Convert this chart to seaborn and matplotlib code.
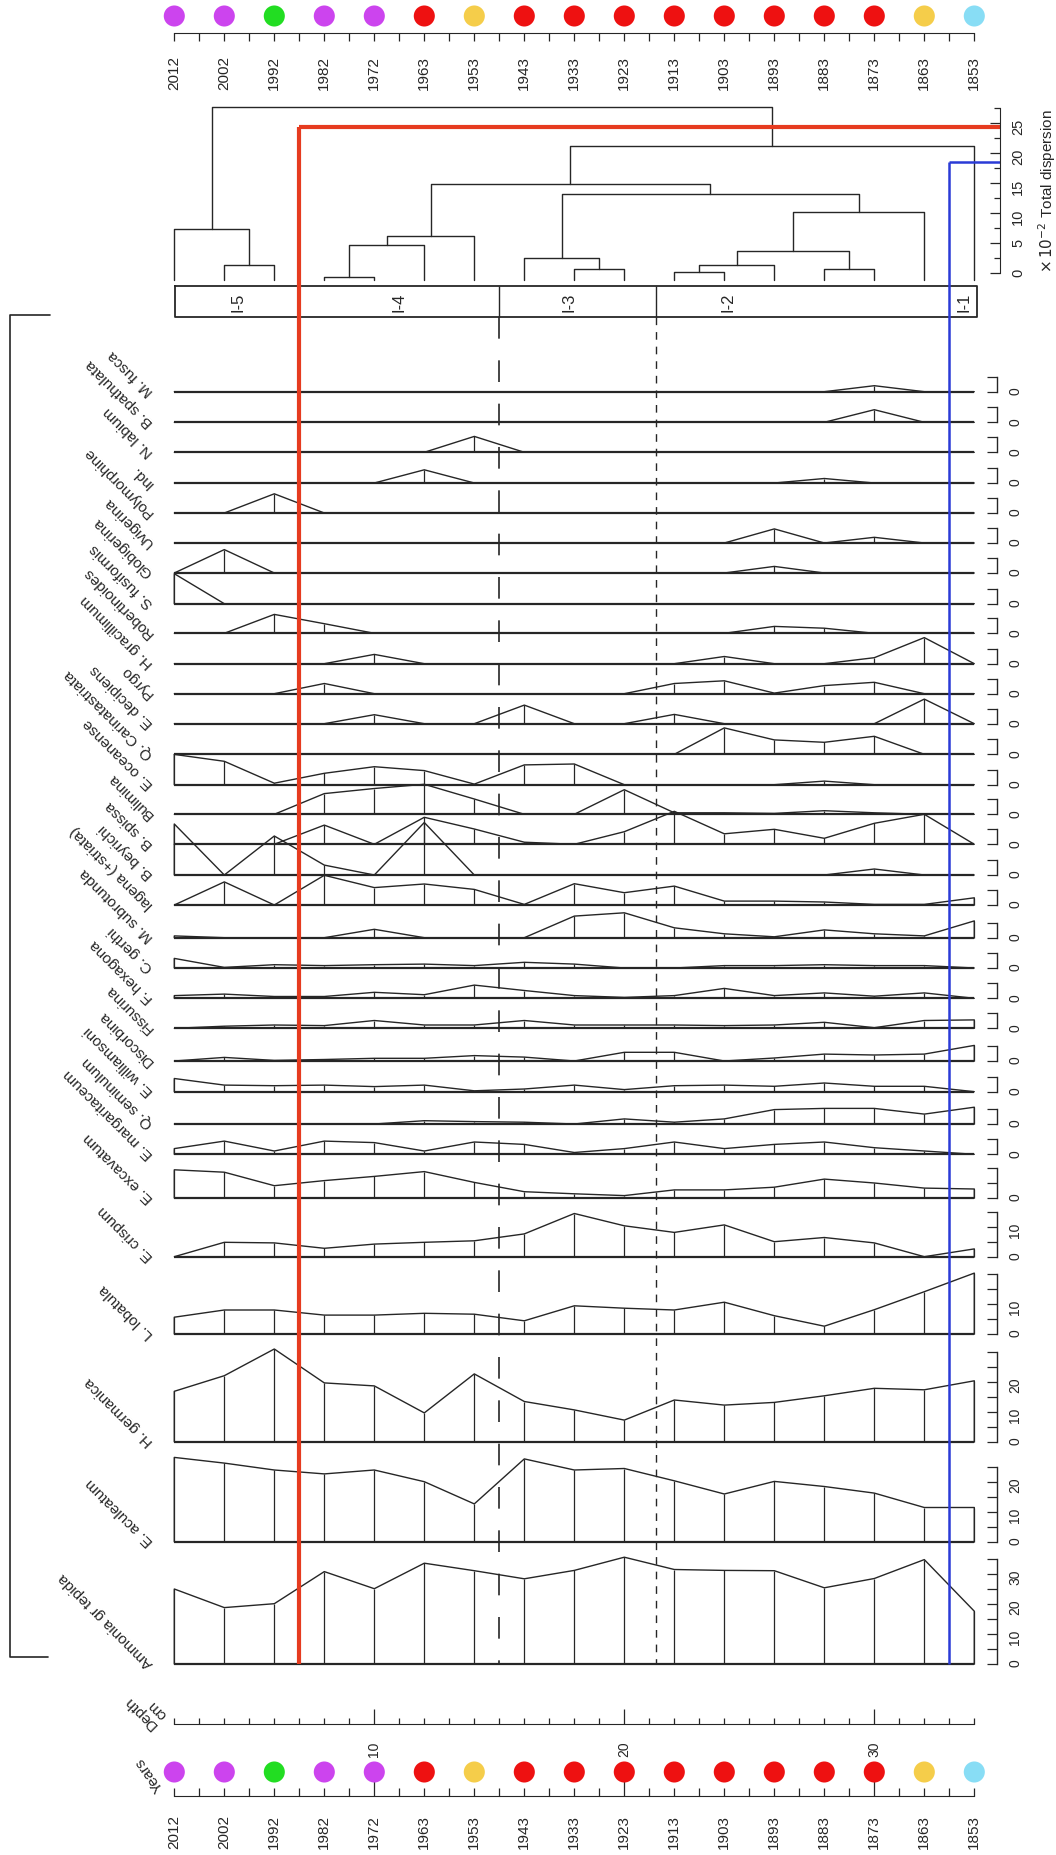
import numpy as np
import pandas as pd
import matplotlib
matplotlib.use('Agg')
import matplotlib.pyplot as plt
import seaborn as sns

# ---- samples -------------------------------------------------------------
years = [2012, 2002, 1992, 1982, 1972, 1963, 1953, 1943, 1933, 1923,
         1913, 1903, 1893, 1883, 1873, 1863, 1853]
depths = [2, 4, 6, 8, 10, 12, 14, 16, 18, 20, 22, 24, 26, 28, 30, 32, 34]
year_colors = ['#cc44ee', '#cc44ee', '#22dd22', '#cc44ee', '#cc44ee', '#ee1111',
               '#f5cd4a', '#ee1111', '#ee1111', '#ee1111', '#ee1111', '#ee1111',
               '#ee1111', '#ee1111', '#ee1111', '#f5cd4a', '#88ddf5']

# ---- relative abundances (%) ------------------------------------------------
m_fusca = [0, 0, 0, 0, 0, 0, 0, 0, 0, 0, 0, 0, 0, 0, 2, 0, 0]
b_spathulata = [0, 0, 0, 0, 0, 0, 0, 0, 0, 0, 0, 0, 0, 0, 4.2, 0, 0]
n_labium = [0, 0, 0, 0, 0, 0, 5.3, 0, 0, 0, 0, 0, 0, 0, 0, 0, 0]
ind = [0, 0, 0, 0, 0, 4.4, 0, 0, 0, 0, 0, 0, 0, 1.5, 0, 0, 0]
polymorphine = [0, 0, 6.4, 0, 0, 0, 0, 0, 0, 0, 0, 0, 0, 0, 0, 0, 0]
uvigerina = [0, 0, 0, 0, 0, 0, 0, 0, 0, 0, 0, 0, 4.7, 0, 1.9, 0, 0]
globigerina = [0, 7.8, 0, 0, 0, 0, 0, 0, 0, 0, 0, 0, 2.2, 0, 0, 0, 0]
s_fusiformis = [10, 0, 0, 0, 0, 0, 0, 0, 0, 0, 0, 0, 0, 0, 0, 0, 0]
robertinoides = [0, 0, 6.3, 3.2, 0, 0, 0, 0, 0, 0, 0, 0, 2.3, 1.7, 0, 0, 0]
h_gracillimum = [0, 0, 0, 0, 3.1, 0, 0, 0, 0, 0, 0, 2.4, 0, 0, 2, 8.7, 0]
pyrgo = [0, 0, 0, 3.4, 0, 0, 0, 0, 0, 0, 3.4, 4.3, 0.2, 2.7, 3.8, 0, 0]
e_decipiens = [0, 0, 0, 0, 3, 0, 0, 6.2, 0, 0, 3.1, 0, 0, 0, 0, 8.2, 0]
q_carinatastriata = [0, 0, 0, 0, 0, 0, 0, 0, 0, 0, 0, 8.8, 4.8, 4.0, 6.0, 0, 0]
e_oceanense = [10.1, 7.8, 0.5, 3.8, 6, 4.7, 0.2, 6.6, 6.9, 0, 0, 0, 0, 1.2, 0, 0, 0]
bulimina = [0, 0, 0, 6.9, 8.6, 10, 5.1, 0, 0, 8.2, 0.5, 0.5, 0.3, 1.2, 0.5, 0, 0]
b_spissa = [0, 0, 0, 6.4, 0, 9, 5.1, 0.7, 0, 4.2, 11, 3.5, 5, 2, 7, 10, 0]
b_beyrichi = [17, 0, 13, 3.3, 0, 17.5, 0, 0, 0, 0, 0, 0, 0, 0, 2, 0, 0]
lagena = [0, 7.7, 0, 9.9, 5.8, 7, 5.2, 0.2, 7.1, 4.1, 6.3, 1.3, 1.3, 1.0, 0.2, 0.2, 2.4]
m_subrotunda = [0.6, 0, 0, 0, 2.8, 0, 0, 0, 7.2, 8.3, 3.3, 1.3, 0.3, 2.6, 1.3, 0.6, 5.6]
c_gerthi = [3.2, 0.2, 1.1, 0.8, 1.1, 1.3, 0.8, 1.9, 1.3, 0, 0, 0.8, 0.8, 1.1, 0.8, 0.8, 0]
f_hexagona = [0.9, 1.4, 0.6, 0.6, 2, 1.2, 4.4, 2.6, 0.9, 0.3, 0.9, 3.3, 0.9, 1.8, 0.7, 1.8, 0]
fissurina = [0, 0.7, 1.1, 0.9, 2.6, 1.1, 1.1, 2.6, 1.1, 1.1, 1.1, 0.9, 1.1, 2, 0.2, 2.6, 2.8]
discorbina = [0, 1.2, 0.2, 0.5, 0.9, 0.9, 1.8, 1.3, 0, 2.9, 2.9, 0, 1, 2.3, 2, 2.3, 5.2]
e_williamsoni = [4.4, 2.2, 2, 2.2, 1.7, 2.2, 0.3, 0.9, 2.2, 0.7, 2, 2.2, 1.8, 2.9, 1.8, 1.8, 0]
q_seminulum = [0, 0, 0, 0, 0, 1.1, 0.8, 0.6, 0, 1.7, 0.6, 1.7, 4.8, 5.2, 5.2, 3.3, 5.6]
e_margaritaceum = [1.9, 4.4, 1.1, 4.4, 3.9, 1.1, 4.1, 3.3, 0.6, 1.9, 4.1, 1.9, 3.3, 4.1, 2.2, 1.1, 0]
e_excavatum = [9.4, 8.6, 4.1, 5.8, 7.2, 8.8, 5.2, 2.1, 1.4, 0.8, 2.7, 2.7, 3.6, 6.3, 5, 3.3, 3]
e_crispum = [0, 4.8, 4.6, 2.8, 4.2, 4.8, 5.3, 7.6, 14.4, 10.3, 8.1, 10.6, 5, 6.4, 4.6, 0, 2.6]
l_lobatula = [5.6, 8, 8, 6.3, 6.3, 6.9, 6.6, 4.4, 9.4, 8.6, 8, 10.6, 6.1, 2.6, 8.1, 14.1, 20.3]
h_germanica = [16.8, 22, 30.9, 19.6, 18.6, 9.6, 22.6, 13.4, 10.6, 7.2, 13.9, 12.2, 13.1, 15.3,
               17.8, 17.3, 20.3]
e_aculeatum = [28.1, 26.2, 23.9, 22.6, 23.9, 20, 12.6, 27.6, 23.9, 24.4, 20.3, 15.9, 20.1, 18.4,
               16.2, 11.4, 11.4]
ammonia = [25, 18.8, 20.1, 30.8, 25.1, 33.6, 31.1, 28.4, 31.2, 35.6, 31.5, 31.2, 31.1, 25.4,
           28.5, 34.8, 17.6]

# ---- CONISS dendrogram (leaf ids 0-16, new nodes from 17) --------------------
merge_left = [1, 0, 3, 19, 20, 8, 7, 10, 24, 13, 25, 27, 23, 21, 30, 18]
merge_right = [2, 17, 4, 5, 6, 9, 22, 11, 12, 14, 26, 15, 28, 29, 16, 31]
merge_height = [1.4, 7.4, -0.6, 4.7, 6.2, 0.67, 2.45, 0.1, 1.33, 0.67, 3.7, 10.1, 13.2,
                14.8, 21.1, 27.6]
zone_bounds = [7, 15, 21.25, 33]
zone_names = ['I-5', 'I-4', 'I-3', 'I-2', 'I-1']
zone_label_depth = [4.55, 11.0, 17.8, 24.15, 33.6]
red_cut = 24.4
blue_cut = 18.5

panels = [
    ('M. fusca', m_fusca), ('B. spathulata', b_spathulata), ('N. labium', n_labium),
    ('Ind.', ind), ('Polymorphine', polymorphine), ('Uvigerina', uvigerina),
    ('Globigerina', globigerina), ('S. fusiformis', s_fusiformis),
    ('Robertinoides', robertinoides), ('H. gracillimum', h_gracillimum), ('Pyrgo', pyrgo),
    ('E. decipiens', e_decipiens), ('Q. Carinatastriata', q_carinatastriata),
    ('E. oceanense', e_oceanense), ('Bulimina', bulimina), ('B. spissa', b_spissa),
    ('B. beyrichi', b_beyrichi), ('lagena (+striata)', lagena), ('M. subrotunda', m_subrotunda),
    ('C. gerthi', c_gerthi), ('F. hexagona', f_hexagona), ('Fissurina', fissurina),
    ('Discorbina', discorbina), ('E. williamsoni', e_williamsoni), ('Q. seminulum', q_seminulum),
    ('E. margaritaceum', e_margaritaceum), ('E. excavatum', e_excavatum),
    ('E. crispum', e_crispum), ('L. lobatula', l_lobatula), ('H. germanica', h_germanica),
    ('E. aculeatum', e_aculeatum), ('Ammonia gr tepida', ammonia),
]

# layout: pixel row of each panel's zero line
panel_base = [392.7, 423.3, 453.3, 484, 514, 544, 574, 604.7, 634.3, 664.7, 694.7, 724.7,
              755.3, 785.7, 815.3, 845.3, 876, 906, 938.7, 969, 999.3, 1029.3, 1062, 1092.7,
              1125, 1155.3, 1199, 1257.7, 1335, 1442.7, 1542.7, 1665]
panel_ticks = [([0], [5])] * 26 + [
    ([0], [5, 10]), ([0, 10], [5, 15]), ([0, 10], [5, 15, 20]),
    ([0, 10, 20], [5, 15, 25, 30]), ([0, 10, 20], [5, 15, 25]),
    ([0, 10, 20, 30], [5, 15, 25, 35])]

sns.set_style('white')
plt.rcParams['font.family'] = ['Liberation Sans', 'DejaVu Sans']

W, H = 1056, 1856
fig = plt.figure(figsize=(W / 100, H / 100), dpi=100)
X0, X1 = 174.3, 974.3          # pixel columns of depth 2 and depth 34
PX_PER_CM = (X1 - X0) / 32
INK = '#262626'
RED = '#e63b1f'
BLUE = '#2a3bd6'


def depth_at(px):
    return 2 + (px - X0) / PX_PER_CM


def px_axes(top, height):
    ax = fig.add_axes([X0 / W, 1 - (top + height) / H, (X1 - X0) / W, height / H])
    ax.patch.set_visible(False)
    ax.set_xlim(2, 34)
    return ax


# ---- species panels ----------------------------------------------------------
panel_axes = []
for (name, vals), base, (major, minor) in zip(panels, panel_base, panel_ticks):
    top = max(major + minor)
    ax = px_axes(base - 3 * top, 3 * top)
    ax.set_ylim(0, top)
    df = pd.DataFrame({'depth': [depths[0]] + depths + [depths[-1]],
                       'pct': [0] + vals + [0]})
    sns.lineplot(data=df, x='depth', y='pct', ax=ax, sort=False, estimator=None,
                 color=INK, lw=1.0)
    ax.vlines(depths, 0, vals, color=INK, lw=0.9, clip_on=False)
    ax.hlines(0, depths[0], depths[-1], color=INK, lw=1.6, clip_on=False)
    for ln in ax.lines:
        ln.set_clip_on(False)
    for side in ['left', 'top', 'bottom']:
        ax.spines[side].set_visible(False)
    sp = ax.spines['right']
    sp.set_position(('axes', (997 - X0) / (X1 - X0)))
    sp.set_bounds(0, top)
    sp.set_color(INK)
    sp.set_linewidth(1.0)
    ax.xaxis.set_visible(False)
    ax.yaxis.tick_right()
    ax.set_yticks(major)
    ax.set_yticks(minor, minor=True)
    ax.set_yticklabels([str(m) for m in major])
    ax.tick_params(axis='y', which='both', direction='in', length=7, width=0.9,
                   color=INK, labelsize=10, labelrotation=90, pad=8, right=True)
    ax.set_xlabel('')
    ax.set_ylabel('')
    ax.annotate(name, xy=(2, 0), xytext=(-17, -1), textcoords='offset points',
                rotation=135, rotation_mode='anchor', ha='left', va='center',
                fontsize=11, color=INK, annotation_clip=False)
    panel_axes.append(ax)

# ---- dendrogram --------------------------------------------------------------
axd = px_axes(107.2, 274 - 107.2)
axd.set_ylim(0, 27.8)
node_x = list(depths)
node_h = [-1.1] * len(depths)
for l, r, h in zip(merge_left, merge_right, merge_height):
    axd.plot([node_x[l], node_x[l], node_x[r], node_x[r]], [node_h[l], h, h, node_h[r]],
             color=INK, lw=1.0, clip_on=False)
    node_x.append((node_x[l] + node_x[r]) / 2)
    node_h.append(h)
d_right = depth_at(1000)
axd.plot([zone_bounds[0], d_right], [red_cut, red_cut], color=RED, lw=3, clip_on=False,
         solid_capstyle='butt')
axd.plot([zone_bounds[-1], d_right], [blue_cut, blue_cut], color=BLUE, lw=1.8, clip_on=False,
         solid_capstyle='butt')
for side in ['left', 'top', 'bottom']:
    axd.spines[side].set_visible(False)
sp = axd.spines['right']
sp.set_position(('axes', (1000 - X0) / (X1 - X0)))
sp.set_bounds(0, 27.5)
sp.set_color(INK)
axd.xaxis.set_visible(False)
axd.yaxis.tick_right()
axd.set_yticks([0, 5, 10, 15, 20, 25])
axd.set_yticks([2.5, 7.5, 12.5, 17.5, 22.5, 27.5], minor=True)
axd.tick_params(axis='y', which='major', direction='in', length=7, width=0.9, color=INK,
                labelsize=10.5, labelrotation=90, pad=8, right=True)
axd.tick_params(axis='y', which='minor', direction='in', length=4.5, width=0.9, color=INK,
                right=True)
axd.yaxis.set_label_position('right')
axd.set_ylabel(r'$\times\,10^{-2}$ Total dispersion', fontsize=11, color=INK,
               rotation=90, labelpad=8)

# ---- year axes (top and bottom) -----------------------------------------------
def year_axis(top, height, tickdir, pad):
    ax = px_axes(top, height)
    ax.set_ylim(-1, 1)
    sns.scatterplot(x=depths, y=[0] * len(depths), hue=[str(y) for y in years],
                    palette=year_colors, legend=False, s=230, edgecolor='none',
                    ax=ax, clip_on=False)
    for side in ['left', 'top', 'right']:
        ax.spines[side].set_visible(False)
    ax.spines['bottom'].set_bounds(2, 34)
    ax.spines['bottom'].set_color(INK)
    ax.set_yticks([])
    ax.set_xticks(depths)
    ax.set_xticklabels([str(y) for y in years])
    ax.set_xticks(list(range(3, 34, 2)), minor=True)
    ax.tick_params(axis='x', which='both', direction=tickdir, length=6, width=0.9,
                   color=INK, bottom=True)
    ax.tick_params(axis='x', which='major', labelsize=11, labelrotation=90, pad=pad,
                   labelcolor=INK)
    ax.set_xlabel('')
    ax.set_ylabel('')
    return ax


year_axis(0, 34, 'out', 10)
axy = year_axis(1749, 48, 'in', 13)
for tk, d in zip(axy.xaxis.get_major_ticks(), depths):
    if d % 10 == 0:
        tk.tick1line.set_markersize(14)

# ---- depth axis ----------------------------------------------------------------
axz = px_axes(1700, 25)
axz.set_ylim(0, 1)
for side in ['left', 'top', 'right']:
    axz.spines[side].set_visible(False)
axz.spines['bottom'].set_bounds(2, 34)
axz.spines['bottom'].set_color(INK)
axz.set_yticks([])
axz.set_xticks([10, 20, 30])
axz.set_xticks([d for d in range(2, 35) if d % 10], minor=True)
axz.tick_params(axis='x', which='major', direction='in', length=11, width=0.9, color=INK,
                labelsize=10, labelrotation=90, pad=12, labelcolor=INK, bottom=True)
axz.tick_params(axis='x', which='minor', direction='in', length=4.5, width=0.9, color=INK,
                bottom=True)

# ---- overlay: zones, cut lines, bracket, titles -----------------------------------
ax_o = fig.add_axes([0, 0, 1, 1])
ax_o.set_xlim(depth_at(0), depth_at(W))
ax_o.set_ylim(H, 0)
ax_o.axis('off')


def to_overlay(ax, x, y):
    return ax_o.transData.inverted().transform(ax.transData.transform((x, y)))


y_bottom = to_overlay(panel_axes[-1], 0, 0)[1]
y_red = to_overlay(axd, 0, red_cut)[1]
y_blue = to_overlay(axd, 0, blue_cut)[1]
box_top, box_bot = 287, 318

ax_o.plot([depth_at(175), depth_at(977), depth_at(977), depth_at(175), depth_at(175)],
          [box_top, box_top, box_bot, box_bot, box_top], color=INK, lw=1.3)
ax_o.vlines(zone_bounds[1:3], box_top, box_bot, color=INK, lw=1.0)
for lab, xd in zip(zone_names, zone_label_depth):
    ax_o.text(xd, (box_top + box_bot) / 2, lab, rotation=90, ha='center', va='center',
              fontsize=12, color=INK)

long_dash = ax_o.plot([zone_bounds[1]] * 2, [box_bot, y_bottom], color=INK, lw=1.2)[0]
long_dash.set_dashes([13, 13])
short_dash = ax_o.plot([zone_bounds[2]] * 2, [box_bot, y_bottom], color=INK, lw=1.0)[0]
short_dash.set_dashes([5.5, 5])

ax_o.plot([zone_bounds[0]] * 2, [y_red, y_bottom], color=RED, lw=3, solid_capstyle='butt')
ax_o.plot([zone_bounds[-1]] * 2, [y_blue, y_bottom], color=BLUE, lw=1.8, solid_capstyle='butt')

ax_o.plot([depth_at(50), depth_at(10), depth_at(10), depth_at(48)], [316, 316, 1658, 1658],
          color=INK, lw=1.2)

ax_o.text(depth_at(160), 1722, 'Depth\ncm', rotation=135, rotation_mode='anchor',
          ha='left', va='center', fontsize=11, color=INK, linespacing=1.0)
ax_o.text(depth_at(160), 1790, 'Years', rotation=125, rotation_mode='anchor',
          ha='left', va='center', fontsize=11, color=INK)

fig.savefig('out.png', dpi=100)
